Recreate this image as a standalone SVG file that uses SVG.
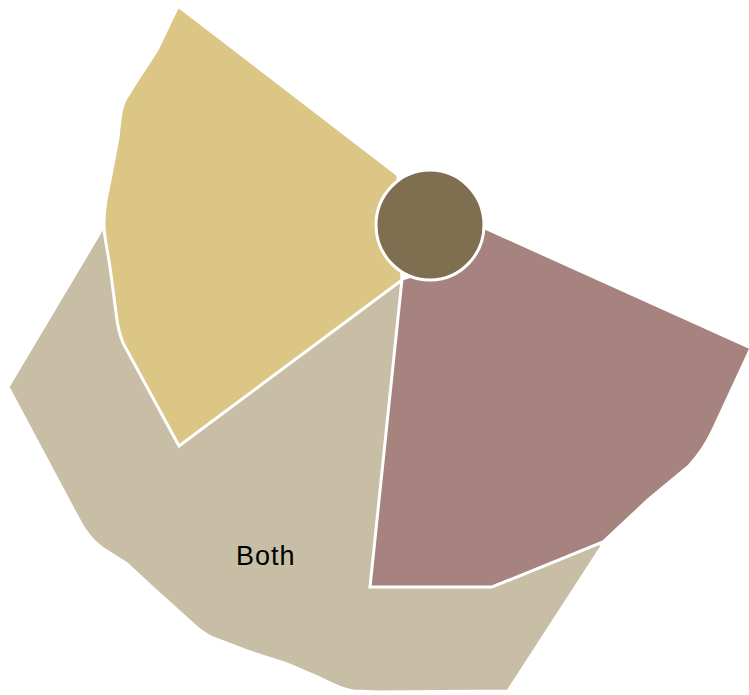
<svg xmlns="http://www.w3.org/2000/svg" width="749" height="695" viewBox="0 0 749 695">
<style>
.r{stroke:#ffffff;stroke-width:3;stroke-linejoin:miter}
.lbl{font-family:"Liberation Sans",Arial,sans-serif;font-size:27px;letter-spacing:1px;fill:#000}
</style>
<rect width="749" height="695" fill="#ffffff"/>
<g id="both">
<path class="r" fill="#C8BEA6" d="M102,229 L8,387 L79,520 C84,530 91,540 102,548 L127,564 L153,588 L193,624 C200,631 207,635 213,638 L247,651 L287,664 L320,678 C330,683 340,689 353,691 L380,692 L508,691 L602,546 L402,279 Z"/>
<text class="lbl" x="236" y="565">Both</text>
</g>
<g id="setA">
<path class="r" fill="#DBC685" d="M178,6 L398,175 L402,280 L179,446 L123,343 C120,335 118,328 117,320 L110,267 L105,237 C103,225 104,213 106,200 L112,170 L118,138 C120,118 121,108 125,100 L133,87 L157,50 Z"/>
</g>
<g id="setB">
<path class="r" fill="#A6837F" d="M445,210 L751,348 L713,430 C706,445 699,455 689,466 L648,500 L603,542 L492,587 L370,587 L402,279 L425,272 Z"/>
</g>
<g id="center">
<ellipse class="r" cx="430" cy="225" rx="54" ry="55" fill="#806E50"/>
</g>
<g id="connectors"></g>
</svg>
